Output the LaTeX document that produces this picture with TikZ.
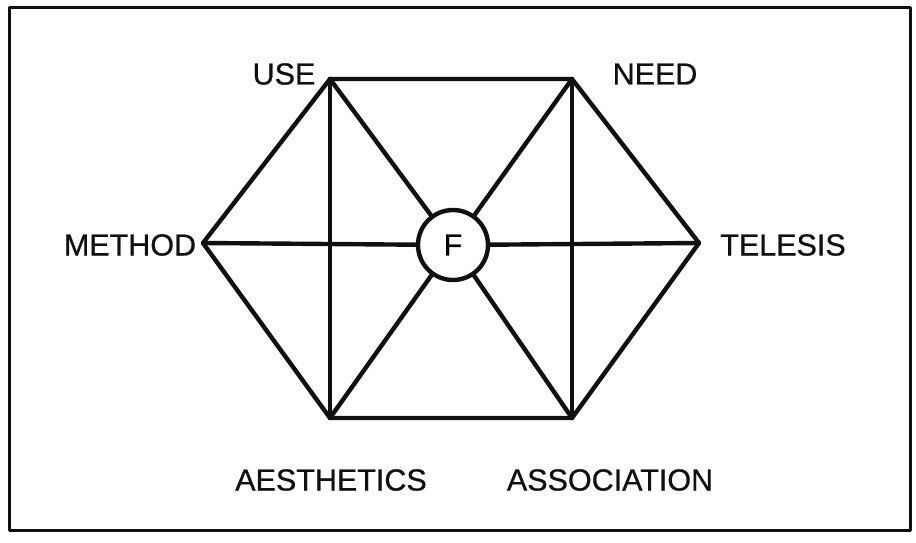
\documentclass[tikz,border=0pt]{standalone}
\usepackage{fontspec}
\setmainfont{Liberation Sans}
\newfontfamily\labelfont[FakeBold=0.7]{Liberation Sans}
\usetikzlibrary{calc}
\newcommand{\Edge}{4.4pt}
\newcommand{\Frame}{3.0pt}
\newcommand{\HubR}{35pt}
\definecolor{ink}{HTML}{101010}

\begin{document}
\begin{tikzpicture}[x=1pt,y=-1pt, line join=round, line cap=round,
  word/.style={font=\labelfont\fontsize{30.5}{36}\selectfont, text=ink, inner sep=0pt}]

  \useasboundingbox (0,0) rectangle (916,543);

  % ---- frame --------------------------------------------------------------
  \draw[ink,line width=\Frame] (9,8) rectangle (910,530);

  % ---- corners of the hexagon ---------------------------------------------
  \coordinate (use)    at (330,79);
  \coordinate (need)   at (572,79);
  \coordinate (tel)    at (699,243);
  \coordinate (assoc)  at (572,418);
  \coordinate (aesth)  at (330,418);
  \coordinate (meth)   at (203,243);

  % The hub, a ring with its letter; lines stop at its rim.
  \node[circle, draw=ink, line width=\Edge, minimum size=2*\HubR, inner sep=0pt,
        font=\labelfont\fontsize{30.5}{36}\selectfont] (hub) at (453,245) {F};

  % ---- rim ----------------------------------------------------------------
  \draw[ink,line width=\Edge] (use) -- (need) -- (tel) -- (assoc) -- (aesth)
    -- (meth) -- cycle;

  % ---- spokes -------------------------------------------------------------
  \draw[ink,line width=\Edge] (use) -- (aesth);
  \draw[ink,line width=\Edge] (need) -- (assoc);
  \foreach \a in {use,need,assoc,aesth,meth,tel} {
    \draw[ink,line width=\Edge] (\a) -- (hub);
  }

  % ---- labels -------------------------------------------------------------
  \node[word] (useL)   at (284,74)  {USE};
  \node[word] (needL)  at (655,74)  {NEED};
  \node[word] (methL)  at (130,245) {METHOD};
  \node[word] (telL)   at (783,245) {TELESIS};
  \node[word] (aesthL) at (331,480) {AESTHETICS};
  \node[word] (assocL) at (610,480) {ASSOCIATION};

\end{tikzpicture}
\end{document}
